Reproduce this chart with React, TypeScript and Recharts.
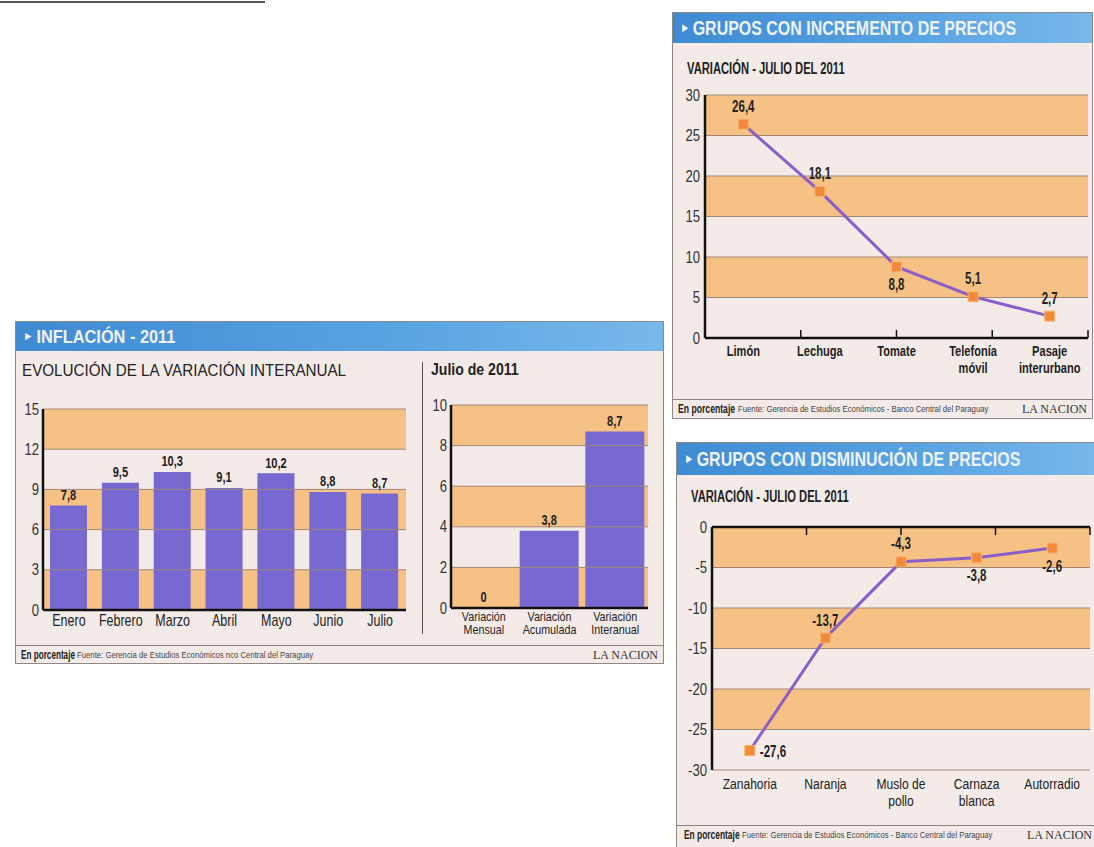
import React from 'react';
import {
  BarChart, Bar, LineChart, Line, XAxis, YAxis,
  ReferenceArea, ReferenceLine, LabelList,
} from 'recharts';

// ---------- data ----------
const monthCategories = ['Enero', 'Febrero', 'Marzo', 'Abril', 'Mayo', 'Junio', 'Julio'];
const monthValues = [7.8, 9.5, 10.3, 9.1, 10.2, 8.8, 8.7];
const monthTicks = [0, 3, 6, 9, 12, 15];
const monthBands: [number, number][] = [[0, 3], [6, 9], [12, 15]];

const julyCategories = ['Variación Mensual', 'Variación Acumulada', 'Variación Interanual'];
const julyValues = [0, 3.8, 8.7];
const julyTicks = [0, 2, 4, 6, 8, 10];
const julyBands: [number, number][] = [[0, 2], [4, 6], [8, 10]];

const incCategories = ['Limón', 'Lechuga', 'Tomate', 'Telefonía móvil', 'Pasaje interurbano'];
const incValues = [26.4, 18.1, 8.8, 5.1, 2.7];
const incTicks = [0, 5, 10, 15, 20, 25, 30];
const incBands: [number, number][] = [[5, 10], [15, 20], [25, 30]];

const decCategories = ['Zanahoria', 'Naranja', 'Muslo de pollo', 'Carnaza blanca', 'Autorradio'];
const decValues = [-27.6, -13.7, -4.3, -3.8, -2.6];
const decTicks = [-30, -25, -20, -15, -10, -5, 0];
const decBands: [number, number][] = [[-5, 0], [-15, -10], [-25, -20]];

// label placement (style only)
const incLabelSide = ['top', 'top', 'bottom', 'top', 'top'];
const decLabelSide = ['right', 'top', 'top', 'bottom', 'bottom'];

const monthData = monthCategories.map((name, i) => ({ name, v: monthValues[i] }));
const julyData = julyCategories.map((name, i) => ({ name, v: julyValues[i] }));
const incData = incCategories.map((name, i) => ({ name, v: incValues[i] }));
const decData = decCategories.map((name, i) => ({ name, v: decValues[i] }));

// ---------- styles ----------
const SANS = "'Liberation Sans', Arial, 'DejaVu Sans', sans-serif";
const SERIF = "'Liberation Serif', 'DejaVu Serif', serif";
const ORANGE = '#f6c184';
const BAND_LINE = '#a08676';
const PURPLE_BAR = '#7868d2';
const PURPLE_LINE = '#8a5ec8';
const MARKER = '#f2893a';
const PANEL_BG = '#f4ebe9';
const TEXT = '#222';

const fmt = (v: any) => (Number(v) === 0 ? '0' : Number(v).toFixed(1).replace('.', ','));

const splitLabel = (s: string) => {
  const i = s.lastIndexOf(' ');
  return i < 0 ? [s] : [s.slice(0, i), s.slice(i + 1)];
};

// condensed SVG text: horizontal scaling around anchor point
const CText = ({ x, y, sx, anchor = 'middle', size, weight = 400, fill = TEXT, dy = '0.35em', children }: any) => (
  <g transform={`translate(${x},${y}) scale(${sx},1)`}>
    <text x={0} y={0} dy={dy} textAnchor={anchor} fontFamily={SANS} fontSize={size} fontWeight={weight} fill={fill}>
      {children}
    </text>
  </g>
);

const MultiTick = (props: any) => {
  const { x, y, payload, size, weight, lineH, sx } = props;
  const lines = splitLabel(String(payload.value));
  return (
    <g transform={`translate(${x},${y}) scale(${sx},1)`}>
      {lines.map((l, i) => (
        <text key={i} x={0} y={i * lineH} dy="0.75em" textAnchor="middle" fontFamily={SANS}
          fontSize={size} fontWeight={weight} fill={TEXT}>{l}</text>
      ))}
    </g>
  );
};

const YTick = (props: any) => {
  const { x, y, payload } = props;
  return <CText x={x} y={y} sx={0.82} anchor="end" size={16} fill="#333">{payload.value}</CText>;
};

const SquareDot = (props: any) => {
  const { cx, cy, index } = props;
  if (cx == null || cy == null) return null;
  return (
    <rect key={`d${index}`} x={cx - 5} y={cy - 5} width={10} height={10}
      fill={MARKER} stroke="#f8b36e" strokeWidth={1} />
  );
};

const makeLineLabel = (sides: string[]) => (p: any) => {
  const { x, y, value, index } = p;
  const side = sides[index] || 'top';
  let tx = x, ty = y - 18, anchor = 'middle';
  if (side === 'bottom') ty = y + 18;
  if (side === 'right') { tx = x + 10; ty = y + 1; anchor = 'start'; }
  return (
    <CText key={`l${index}`} x={tx} y={ty} sx={0.72} anchor={anchor} size={16} weight={700}>{fmt(value)}</CText>
  );
};

const barLabel = (p: any) => {
  const { x, y, width, height, value, index } = p;
  const top = Math.min(Number(y), Number(y) + Number(height || 0));
  return (
    <CText key={`b${index}`} x={Number(x) + Number(width) / 2} y={top - 11} sx={0.74} size={15} weight={700}>
      {fmt(value)}
    </CText>
  );
};

const bandEls = (bands: [number, number][], ticks: number[], keyp: string) => [
  ...bands.map(([a, b], i) => (
    <ReferenceArea key={`${keyp}a${i}`} y1={a} y2={b} fill={ORANGE} fillOpacity={1} stroke="none" ifOverflow="extendDomain" />
  )),
  ...ticks.map((t, i) => (
    <ReferenceLine key={`${keyp}l${i}`} y={t} stroke={BAND_LINE} strokeWidth={1} />
  )),
];

const axisLine = { stroke: '#111', strokeWidth: 2.5 };

const cond = (s: number): React.CSSProperties => ({
  display: 'inline-block', transform: `scaleX(${s})`, transformOrigin: 'left center', whiteSpace: 'nowrap',
});

const Header = ({ title, h, size, sx }: { title: string; h: number; size: number; sx: number }) => (
  <div style={{
    position: 'absolute', left: 0, top: 0, right: 0, height: h,
    background: 'linear-gradient(90deg, #3f8bd3 0%, #5aa4e2 60%, #78b8ea 100%)',
    color: '#eef2fa', fontFamily: SANS, fontWeight: 700, fontSize: size,
    lineHeight: `${h}px`, paddingLeft: 9, whiteSpace: 'nowrap', overflow: 'hidden',
  }}>
    <span style={cond(sx)}>
      <span style={{ fontSize: size * 0.5, marginRight: 6, verticalAlign: 'middle', position: 'relative', top: -2 }}>▶</span>{title}
    </span>
  </div>
);

const Footer = ({ top, fuente, pl, fl, ps }: { top: number; fuente: string; pl: number; fl: number; ps: number }) => (
  <div style={{
    position: 'absolute', left: 0, right: 0, top, height: 18,
    borderTop: '1px solid #8a8480', fontFamily: SANS, color: TEXT, whiteSpace: 'nowrap',
  }}>
    <span style={{ position: 'absolute', left: pl, top: 2, fontSize: 12, fontWeight: 700, ...cond(ps) }}>En porcentaje</span>
    <span style={{ position: 'absolute', left: fl, top: 4, fontSize: 9, color: '#444', ...cond(0.86) }}>{fuente}</span>
    <span style={{ position: 'absolute', right: 5, top: 2, fontSize: 12, fontFamily: SERIF, color: '#333' }}>LA NACION</span>
  </div>
);

export default function App() {
  return (
    <div style={{ position: 'absolute', left: 0, top: 0, width: 1094, height: 847, background: '#ffffff', overflow: 'hidden' }}>
      {/* scan artifact line */}
      <div style={{ position: 'absolute', left: 0, top: 1, width: 265, height: 2, background: '#555' }} />

      {/* ============ INFLACION panel ============ */}
      <div style={{ position: 'absolute', left: 15, top: 321, width: 647, height: 341, background: PANEL_BG, border: '1px solid #8d8886' }}>
        <Header title="INFLACIÓN - 2011" h={29} size={19} sx={0.86} />
        <div style={{ position: 'absolute', left: 6, top: 40, fontFamily: SANS, fontSize: 16, color: TEXT }}>
          <span style={cond(0.95)}>EVOLUCIÓN DE LA VARIACIÓN INTERANUAL</span>
        </div>
        <div style={{ position: 'absolute', left: 415, top: 39, fontFamily: SANS, fontSize: 16, fontWeight: 700, color: TEXT }}>
          <span style={cond(0.88)}>Julio de 2011</span>
        </div>
        <div style={{ position: 'absolute', left: 406, top: 40, width: 1, height: 272, background: '#555' }} />
        <Footer top={323} pl={5} fl={61} ps={0.68} fuente="Fuente: Gerencia de Estudios Económicos nco Central del Paraguay" />
      </div>

      <div style={{ position: 'absolute', left: 16, top: 395 }}>
        <BarChart width={400} height={250} data={monthData}
          margin={{ top: 14, right: 10, bottom: 5, left: 0 }} barSize={37}>
          <XAxis dataKey="name" interval={0} tickLine={false} axisLine={axisLine} tickSize={0} tickMargin={4} height={30}
            tick={(p: any) => <MultiTick {...p} size={16} weight={400} lineH={16} sx={0.78} />} />
          <YAxis domain={[0, 15]} ticks={monthTicks} interval={0} width={27} tickLine={false} axisLine={axisLine}
            tickSize={0} tickMargin={4} tick={<YTick />} />
          {bandEls(monthBands, monthTicks.slice(1), 'm')}
          <Bar dataKey="v" fill={PURPLE_BAR} isAnimationActive={false}>
            <LabelList dataKey="v" content={barLabel} />
          </Bar>
        </BarChart>
      </div>

      <div style={{ position: 'absolute', left: 425, top: 391 }}>
        <BarChart width={230} height={260} data={julyData}
          margin={{ top: 14, right: 7, bottom: 3, left: 0 }} barSize={59}>
          <XAxis dataKey="name" interval={0} tickLine={false} axisLine={axisLine} tickSize={0} tickMargin={4} height={40}
            tick={(p: any) => <MultiTick {...p} size={12.5} weight={400} lineH={12.5} sx={0.86} />} />
          <YAxis domain={[0, 10]} ticks={julyTicks} interval={0} width={26} tickLine={false} axisLine={axisLine}
            tickSize={0} tickMargin={4} tick={<YTick />} />
          {bandEls(julyBands, julyTicks.slice(1), 'j')}
          <Bar dataKey="v" fill={PURPLE_BAR} minPointSize={0.5} isAnimationActive={false} label={barLabel} />
        </BarChart>
      </div>

      {/* ============ INCREMENTO panel ============ */}
      <div style={{ position: 'absolute', left: 672, top: 12, width: 419, height: 405, background: PANEL_BG, border: '1px solid #8d8886' }}>
        <Header title="GRUPOS CON INCREMENTO DE PRECIOS" h={30} size={21} sx={0.76} />
        <div style={{ position: 'absolute', left: 14, top: 47, fontFamily: SANS, fontSize: 16, fontWeight: 700, color: TEXT }}>
          <span style={cond(0.7)}>VARIACIÓN - JULIO DEL 2011</span>
        </div>
        <Footer top={386} pl={5} fl={65} ps={0.72} fuente="Fuente: Gerencia de Estudios Económicos - Banco Central del Paraguay" />
      </div>

      <div style={{ position: 'absolute', left: 673, top: 80 }}>
        <LineChart width={419} height={305} data={incData}
          margin={{ top: 15, right: 4, bottom: 7, left: 0 }}>
          <XAxis dataKey="name" scale="band" interval={0} tickLine={false} axisLine={axisLine} tickSize={0} tickMargin={7} height={40}
            tick={(p: any) => <MultiTick {...p} size={15} weight={700} lineH={16.5} sx={0.74} />} />
          <XAxis xAxisId="n" type="number" domain={[0, incCategories.length]} hide allowDataOverflow />
          <YAxis domain={[0, 30]} ticks={incTicks} interval={0} width={32} tickLine={false} axisLine={axisLine}
            tickSize={0} tickMargin={5} tick={<YTick />} />
          {bandEls(incBands, incTicks.slice(1), 'i')}
          {incCategories.slice(1).map((_, i) => (
            <ReferenceLine key={`it${i}`} xAxisId="n" segment={[{ x: i + 1, y: 0 }, { x: i + 1, y: 1 }]}
              stroke="#111" strokeWidth={1.5} />
          ))}
          <Line dataKey="v" stroke={PURPLE_LINE} strokeWidth={3} dot={<SquareDot />} activeDot={false}
            isAnimationActive={false}>
            <LabelList dataKey="v" content={makeLineLabel(incLabelSide)} />
          </Line>
        </LineChart>
      </div>

      {/* ============ DISMINUCION panel ============ */}
      <div style={{ position: 'absolute', left: 676, top: 442, width: 420, height: 404, background: PANEL_BG, border: '1px solid #8d8886' }}>
        <Header title="GRUPOS CON DISMINUCIÓN DE PRECIOS" h={32} size={21} sx={0.76} />
        <div style={{ position: 'absolute', left: 14, top: 45, fontFamily: SANS, fontSize: 16, fontWeight: 700, color: TEXT }}>
          <span style={cond(0.7)}>VARIACIÓN - JULIO DEL 2011</span>
        </div>
        <Footer top={382} pl={7} fl={65} ps={0.7} fuente="Fuente: Gerencia de Estudios Económicos - Banco Central del Paraguay" />
      </div>

      <div style={{ position: 'absolute', left: 677, top: 515 }}>
        <LineChart width={415} height={300} data={decData}
          margin={{ top: 12, right: 2, bottom: 5, left: 0 }}>
          <XAxis dataKey="name" scale="band" interval={0} tickLine={false} axisLine={false} tickSize={0} tickMargin={7} height={40}
            tick={(p: any) => <MultiTick {...p} size={15.5} weight={400} lineH={17} sx={0.78} />} />
          <XAxis xAxisId="n" type="number" domain={[0, decCategories.length]} hide allowDataOverflow />
          <YAxis domain={[-30, 0]} ticks={decTicks} interval={0} width={35} tickLine={false} axisLine={axisLine}
            tickSize={0} tickMargin={5} tick={<YTick />} />
          {bandEls(decBands, decTicks.slice(0, -1), 'd')}
          <ReferenceLine y={0} stroke="#111" strokeWidth={2.5} />
          {decCategories.slice(1).map((_, i) => (
            <ReferenceLine key={`dt${i}`} xAxisId="n" segment={[{ x: i + 1, y: 0 }, { x: i + 1, y: -1 }]}
              stroke="#111" strokeWidth={1.5} />
          ))}
          <Line dataKey="v" stroke={PURPLE_LINE} strokeWidth={3} dot={<SquareDot />} activeDot={false}
            isAnimationActive={false}>
            <LabelList dataKey="v" content={makeLineLabel(decLabelSide)} />
          </Line>
        </LineChart>
      </div>
    </div>
  );
}
